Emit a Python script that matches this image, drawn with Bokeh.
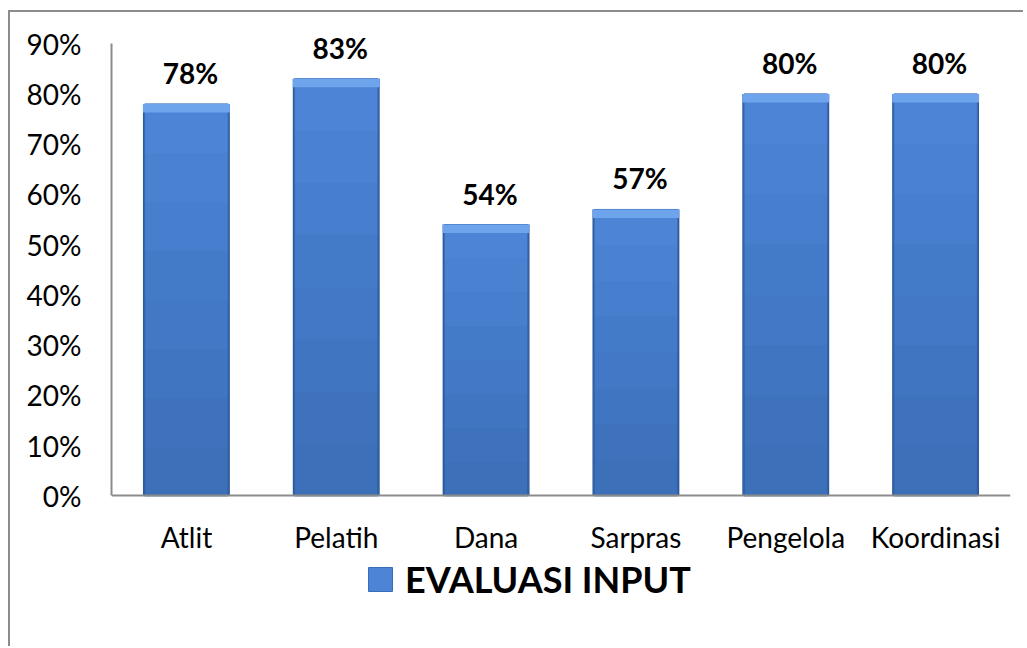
from bokeh.plotting import figure
from bokeh.models import ColumnDataSource, Legend, LegendItem, FixedTicker, CustomJSTickFormatter, LabelSet
from bokeh.core.properties import value
from bokeh.embed import file_html
from bokeh.resources import INLINE

categories = ["Atlit", "Pelatih", "Dana", "Sarpras", "Pengelola", "Koordinasi"]
values = [78, 83, 54, 57, 80, 80]
value_labels = ["78%", "83%", "54%", "57%", "80%", "80%"]
y_ticks = [0, 10, 20, 30, 40, 50, 60, 70, 80, 90]
series_name = "EVALUASI INPUT"

FONT = "Lato"
BAR_W = 0.58
bevel = 1.7

src = ColumnDataSource(dict(
    x=categories,
    top=values,
    bev_bottom=[v - bevel for v in values],
    lab=value_labels,
))

p = figure(x_range=categories, y_range=(-25, 95), width=1015, height=636,
           output_backend="svg", toolbar_location=None,
           min_border_left=101, min_border_right=15, min_border_top=6, min_border_bottom=27)
p.styles = {"border-left": "2px solid #8c8c8c", "border-top": "2px solid #8c8c8c",
            "margin-left": "8px", "margin-top": "10px"}

# bars: dark right edge, main body, vertical shading, light bevel on top
p.vbar(x="x", top="top", bottom=0, width=BAR_W, source=src,
       fill_color="#2f5a98", line_color=None)
main = p.vbar(x="x", top="top", bottom=0, width=BAR_W * 0.96, source=src,
              fill_color="#4d84d6", line_color="#3a6cb8", line_width=1)
nb = 8
for k in range(1, nb):
    frac = k / nb
    src.data[f"band{k}"] = [v * frac for v in values]
    p.vbar(x="x", top=f"band{k}", bottom=0, width=BAR_W * 0.96, source=src,
           fill_color="#1e3f78", fill_alpha=0.045, line_color=None)
p.vbar(x="x", top="top", bottom="bev_bottom", width=BAR_W, source=src,
       fill_color="#6ea4ec", line_color=None)

labels = LabelSet(x="x", y="top", text="lab", source=src, text_align="center",
                  text_baseline="alphabetic", y_offset=20, x_offset=4,
                  text_font=value(FONT), text_font_style="bold", text_font_size="28px",
                  text_color="#000000")
p.add_layout(labels)

p.xgrid.visible = False
p.ygrid.visible = False
p.outline_line_color = None

p.xaxis.fixed_location = 0
p.yaxis.ticker = FixedTicker(ticks=y_ticks)
p.yaxis.bounds = (0, 90)
p.yaxis.formatter = CustomJSTickFormatter(code="return tick + '%';")
for ax in (p.xaxis[0], p.yaxis[0]):
    ax.axis_line_color = "#8c8c8c"
    ax.axis_line_width = 2
    ax.major_tick_line_color = None
    ax.minor_tick_line_color = None
    ax.major_tick_out = 0
    ax.major_tick_in = 0
    ax.major_label_text_font = FONT
    ax.major_label_text_font_size = "28px"
    ax.major_label_text_color = "#000000"
p.yaxis.major_label_standoff = 30
p.xaxis.major_label_standoff = 24

legend = Legend(items=[LegendItem(label=series_name, renderers=[main])],
                location=(254, 20), orientation="horizontal",
                label_text_font=FONT, label_text_font_style="bold",
                label_text_font_size="36px", label_text_color="#000000",
                glyph_width=30, glyph_height=30,
                padding=0, margin=0, border_line_color=None,
                background_fill_alpha=0, label_standoff=10)
p.add_layout(legend, "center")

open("out.html", "w").write(file_html(p, INLINE))
